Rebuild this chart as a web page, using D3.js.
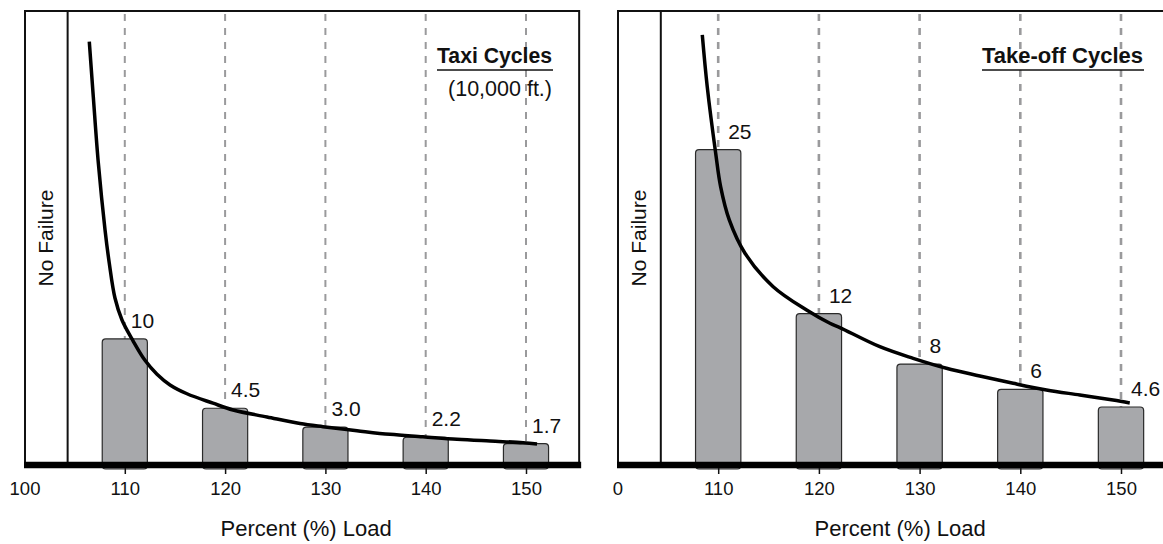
<!DOCTYPE html>
<html>
<head>
<meta charset="utf-8">
<script src="https://cdn.jsdelivr.net/npm/d3@7"></script>
<style>
  html, body { margin: 0; padding: 0; background: #fff; }
  svg { display: block; font-family: "Liberation Sans", Arial, Helvetica, sans-serif; }
</style>
</head>
<body>
<svg id="chart" width="1163" height="544"></svg>
<script>
// Percent load levels where cycles-to-failure were measured
const loads = [110, 120, 130, 140, 150];

// Taxi cycles (10,000 ft.) to failure
const taxiCycles = [10, 4.5, 3.0, 2.2, 1.7];
const taxiLabels = ["10", "4.5", "3.0", "2.2", "1.7"];

// Take-off cycles to failure
const takeoffCycles = [25, 12, 8, 6, 4.6];
const takeoffLabels = ["25", "12", "8", "6", "4.6"];

// Axis ticks
const tickValues = [100, 110, 120, 130, 140, 150];
const taxiTickLabels = ["100", "110", "120", "130", "140", "150"];
const takeoffTickLabels = ["0", "110", "120", "130", "140", "150"];

// Load below which no failure occurs
const noFailureLoad = 104.3;

// Fitted trend curves (load %, cycles)
const taxiCurveLoad   = [106.46, 106.86, 107.36, 108.03, 108.45, 109.02, 109.72, 110.82, 112.01, 113.21, 114.51, 116.2, 118.79, 120.79, 124.18, 127.47, 129.76, 133.15, 136.44, 139.73, 143.12, 146.41, 149.7, 151.1];
const taxiCurveCycles = [33.57, 29.2, 23.95, 18.64, 16.02, 13.24, 11.5, 9.85, 8.3, 7.2, 6.35, 5.65, 4.9, 4.36, 3.81, 3.29, 3.04, 2.72, 2.43, 2.24, 2.04, 1.9, 1.77, 1.67];

const takeoffCurveLoad   = [108.42, 108.91, 109.75, 110.24, 111.1, 112.66, 115.46, 118.78, 121.09, 122.08, 126.05, 129.36, 132.67, 135.98, 139.29, 142.6, 145.91, 149.21, 150.87];
const takeoffCurveCycles = [34.1, 30.0, 24.72, 22.07, 19.43, 16.79, 14.14, 12.29, 11.24, 10.9, 9.38, 8.46, 7.67, 7.06, 6.48, 5.95, 5.55, 5.15, 4.92];

const svg = d3.select("#chart");

function drawPanel(opts) {
  const g = svg.append("g");
  const x = d3.scaleLinear().domain([100, 150]).range(opts.xRange);
  const y = d3.scaleLinear().domain([0, 36]).range([465, 11]);
  const xMax = 155.3;
  const left = x(100) + 0.5, right = x(xMax), top = y(36), bottom = y(0);

  // frame
  g.append("rect")
    .attr("x", left).attr("y", top)
    .attr("width", right - left).attr("height", bottom - top)
    .attr("fill", "none").attr("stroke", "#111").attr("stroke-width", 2);

  // dashed reference lines at each load level
  g.selectAll("line.grid").data(loads).join("line")
    .attr("class", "grid")
    .attr("x1", d => x(d)).attr("x2", d => x(d))
    .attr("y1", top + 3).attr("y2", bottom)
    .attr("stroke", "#9a9a9c")
    .attr("stroke-width", opts.gridWidth)
    .attr("stroke-dasharray", "7,7");

  // no-failure boundary
  g.append("line")
    .attr("x1", x(noFailureLoad)).attr("x2", x(noFailureLoad))
    .attr("y1", top).attr("y2", bottom)
    .attr("stroke", "#111").attr("stroke-width", 2);

  const nfx = (left + x(noFailureLoad)) / 2;
  g.append("text")
    .attr("transform", `translate(${nfx + 7},${(top + bottom) / 2}) rotate(-90)`)
    .attr("text-anchor", "middle")
    .attr("font-size", 21)
    .attr("fill", "#111")
    .text("No Failure");

  // bars
  g.selectAll("rect.bar").data(opts.values).join("rect")
    .attr("class", "bar")
    .attr("x", (d, i) => x(loads[i] - 2.25))
    .attr("width", (d, i) => x(loads[i] + 2.25) - x(loads[i] - 2.25))
    .attr("y", d => y(d))
    .attr("height", d => bottom + 4 - y(d))
    .attr("rx", 3.5)
    .attr("fill", "#a7a8ab")
    .attr("stroke", "#2a2a2a")
    .attr("stroke-width", 1.2);

  // trend curve
  const line = d3.line()
    .x(d => x(d[0])).y(d => y(d[1]))
    .curve(d3.curveCatmullRom.alpha(0.5));
  g.append("path")
    .datum(opts.curveLoad.map((l, i) => [l, opts.curveCycles[i]]))
    .attr("d", line)
    .attr("fill", "none")
    .attr("stroke", "#000")
    .attr("stroke-width", 3.5);

  // value labels
  g.selectAll("text.val").data(opts.values).join("text")
    .attr("class", "val")
    .attr("x", (d, i) => x(loads[i]) + opts.labelDx)
    .attr("y", d => y(d) - 11)
    .attr("font-size", 21)
    .attr("fill", "#111")
    .text((d, i) => opts.labels[i]);

  // thick baseline
  g.append("line")
    .attr("x1", left - 1).attr("x2", right + 2)
    .attr("y1", bottom).attr("y2", bottom)
    .attr("stroke", "#000").attr("stroke-width", 6.5);

  // x axis ticks
  const axis = d3.axisBottom(x)
    .tickValues(tickValues)
    .tickFormat((d, i) => opts.tickLabels[i])
    .tickSize(6).tickPadding(8).tickSizeOuter(0);
  const ag = g.append("g").attr("transform", `translate(0,${bottom + 3})`).call(axis);
  ag.select(".domain").remove();
  ag.selectAll(".tick line").attr("stroke", "#111").attr("stroke-width", 1.5)
    .attr("opacity", d => d === 100 ? 0 : 1);
  ag.selectAll(".tick text")
    .attr("font-size", 18.5)
    .attr("font-family", "Liberation Sans, Arial, sans-serif")
    .attr("fill", "#111");

  // axis title
  g.append("text")
    .attr("x", (left + right) / 2 + 4)
    .attr("y", 536)
    .attr("text-anchor", "middle")
    .attr("font-size", 22)
    .attr("fill", "#111")
    .text("Percent (%) Load");

  // panel title with underline
  const titleRight = opts.titleRight;
  g.append("text")
    .attr("x", titleRight).attr("y", 63)
    .attr("text-anchor", "end")
    .attr("font-size", 22.5)
    .attr("font-weight", "bold")
    .attr("fill", "#111")
    .attr("textLength", opts.titleWidth)
    .attr("lengthAdjust", "spacingAndGlyphs")
    .text(opts.title);
  g.append("line")
    .attr("x1", titleRight - opts.titleWidth).attr("x2", titleRight + 1)
    .attr("y1", 70).attr("y2", 70)
    .attr("stroke", "#111").attr("stroke-width", 1.6);

  if (opts.subtitle) {
    g.append("text")
      .attr("x", titleRight).attr("y", 96)
      .attr("text-anchor", "end")
      .attr("font-size", 21.5)
      .attr("fill", "#111")
      .text(opts.subtitle);
  }
}

drawPanel({
  xRange: [24.5, 526],
  gridWidth: 2,
  values: taxiCycles,
  labels: taxiLabels,
  labelDx: 6,
  tickLabels: taxiTickLabels,
  curveLoad: taxiCurveLoad,
  curveCycles: taxiCurveCycles,
  title: "Taxi Cycles",
  titleWidth: 115,
  titleRight: 552,
  subtitle: "(10,000 ft.)"
});

drawPanel({
  xRange: [617.5, 1121],
  gridWidth: 2.6,
  values: takeoffCycles,
  labels: takeoffLabels,
  labelDx: 10,
  tickLabels: takeoffTickLabels,
  curveLoad: takeoffCurveLoad,
  curveCycles: takeoffCurveCycles,
  title: "Take-off Cycles",
  titleWidth: 161,
  titleRight: 1143,
  subtitle: null
});
</script>
</body>
</html>
